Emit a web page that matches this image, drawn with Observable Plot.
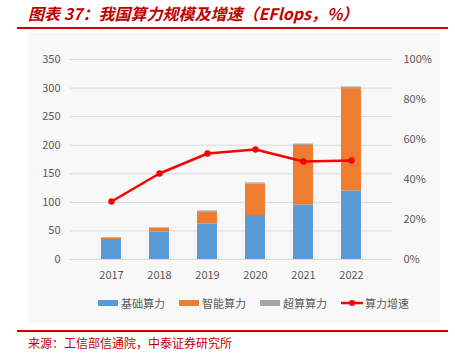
<!DOCTYPE html>
<html><head><meta charset="utf-8">
<script src="https://cdn.jsdelivr.net/npm/d3@7"></script>
<script src="https://cdn.jsdelivr.net/npm/@observablehq/plot@0.6"></script>
<style>
body{margin:0;background:#fff;font-family:"Noto Sans CJK SC","Noto Sans",sans-serif;}
#wrap{position:relative;width:455px;height:360px;overflow:hidden;}
#title{position:absolute;left:28px;top:3px;font-size:16px;font-weight:bold;font-style:italic;color:#C00000;white-space:nowrap;line-height:20px;}
.rule{position:absolute;left:17px;width:431px;height:1.5px;background:#D00000;}
#panel{position:absolute;left:27px;top:33px;width:413px;height:290px;background:#f8f8f8;}
#chart{position:absolute;left:0;top:33px;}
#legend{position:absolute;left:98px;top:295px;display:flex;align-items:center;font-size:11px;color:#595959;white-space:nowrap;}
.item{display:flex;align-items:center;margin-right:14px;}
.sw{width:20px;height:6px;margin-right:3px;}
#source{position:absolute;left:28px;top:334px;font-size:12px;color:#C00000;white-space:nowrap;}
</style></head>
<body><div id="wrap">
<div id="title">图表 37：我国算力规模及增速（EFlops，%）</div>
<div class="rule" style="top:27px"></div>
<div id="panel"></div>
<div id="chart"></div>
<div id="legend"></div>
<div class="rule" style="top:330px"></div>
<div id="source">来源：工信部信通院，中泰证券研究所</div>
</div>
<script>
const years = ["2017","2018","2019","2020","2021","2022"];
const basic = [35, 48, 62, 77, 95, 120];
const intelligent = [2.5, 6.5, 21.5, 55, 104.5, 179];
const superc = [1, 1, 1.5, 2, 2.5, 3];
const growth = [29, 43, 53, 55, 49, 49.5];
const seriesNames = ["基础算力", "智能算力", "超算算力"];
const lineName = "算力增速";
const colors = ["#5B9BD5", "#ED7D31", "#A5A5A5"];
const leftTicks = [0, 50, 100, 150, 200, 250, 300, 350];
const rightTicks = [0, 20, 40, 60, 80, 100];
const rightLabels = ["0%", "20%", "40%", "60%", "80%", "100%"];

const yMax = 350;
const toLeft = v => v * yMax / 100;

const rows = [];
const vals = [basic, intelligent, superc];
years.forEach((yr, i) => {
  seriesNames.forEach((s, k) => rows.push({year: yr, series: s, value: vals[k][i], order: k}));
});
const lineData = years.map((yr, i) => ({year: yr, g: growth[i]}));

const plot = Plot.plot({
  width: 455, height: 262,
  marginTop: 26, marginBottom: 36, marginLeft: 70, marginRight: 63,
  style: {background: "transparent", fontFamily: "'Noto Sans CJK SC','Noto Sans',sans-serif", fontSize: "11px", color: "#595959"},
  x: {domain: years, padding: 0.59, label: null},
  y: {domain: [0, yMax], label: null},
  color: {domain: seriesNames, range: colors},
  marks: [
    Plot.ruleY(leftTicks, {stroke: "#d9d9d9", strokeWidth: 1}),
    Plot.axisY(leftTicks, {anchor: "left", tickSize: 0, tickPadding: 10, label: null, fill: "#595959"}),
    Plot.axisY(rightTicks.map(toLeft), {anchor: "right", tickSize: 0, tickPadding: 11, label: null, fill: "#595959",
      tickFormat: v => rightLabels[rightTicks.indexOf(Math.round(v * 100 / yMax))]}),
    Plot.axisX({tickSize: 0, tickPadding: 12, label: null, fill: "#595959"}),
    Plot.barY(rows, Plot.stackY({x: "year", y: "value", fill: "series", order: "order"})),
    Plot.line(lineData, {x: "year", y: d => toLeft(d.g), stroke: "#FF0000", strokeWidth: 2.5}),
    Plot.dot(lineData, {x: "year", y: d => toLeft(d.g), fill: "#FF0000", r: 3.2})
  ]
});
document.getElementById("chart").appendChild(plot);

const legend = document.getElementById("legend");
seriesNames.forEach((s, k) => {
  const it = document.createElement("div"); it.className = "item";
  it.innerHTML = `<span class="sw" style="background:${colors[k]}"></span><span>${s}</span>`;
  legend.appendChild(it);
});
const li = document.createElement("div"); li.className = "item";
li.innerHTML = `<svg width="22" height="10" style="margin-right:2px"><line x1="0" y1="5" x2="22" y2="5" stroke="#FF0000" stroke-width="2.5"/><circle cx="11" cy="5" r="3" fill="#FF0000"/></svg><span>${lineName}</span>`;
legend.appendChild(li);
</script>
</body></html>
